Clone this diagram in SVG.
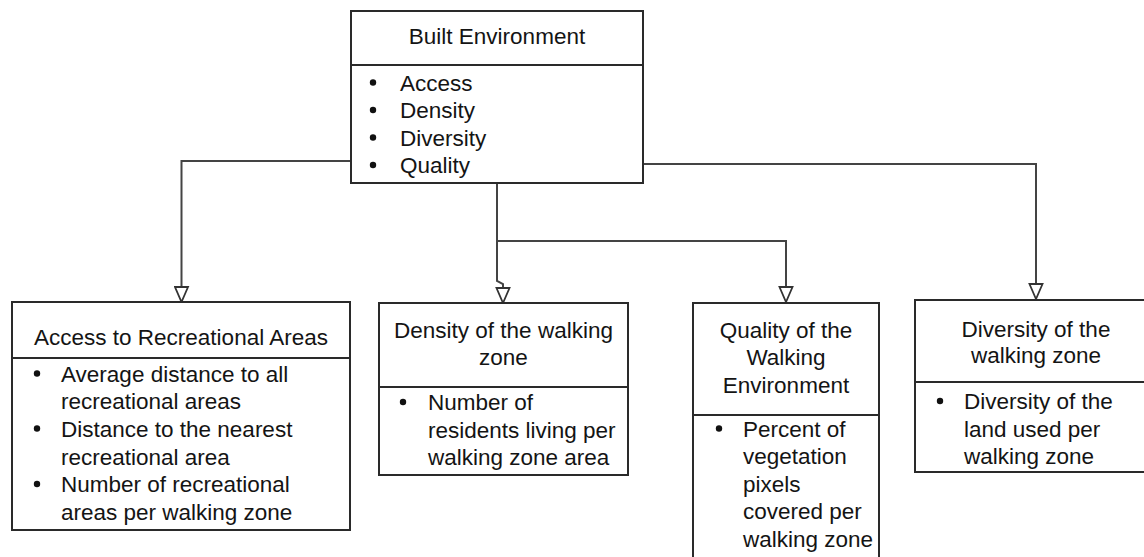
<svg xmlns="http://www.w3.org/2000/svg" width="1144" height="557" viewBox="0 0 1144 557">
  <style>
    .box { fill: #ffffff; stroke: #2a2a2a; stroke-width: 2; }
    .div { stroke: #2a2a2a; stroke-width: 2; fill: none; }
    .t { font-family: "Liberation Sans", Arial, sans-serif; font-size: 22.5px; fill: #141414; }
    .c { text-anchor: middle; }
    .dot { fill: #111111; }
    .wire { fill: none; stroke: #444444; stroke-width: 2; }
  </style>
  <defs>
    <marker id="open-tri" markerUnits="userSpaceOnUse" markerWidth="18" markerHeight="16" viewBox="-1 -8 18 16" refX="15" refY="0" orient="auto">
      <path d="M0,-6.5 L15,0 L0,6.5 Z" fill="#ffffff" stroke="#333333" stroke-width="1.8" stroke-linejoin="miter"/>
    </marker>
  </defs>
  <rect width="1144" height="557" fill="#ffffff"/>

  <!-- connectors -->
  <g id="connectors">
    <path class="wire" d="M351,161 H181.5 V302" marker-end="url(#open-tri)"/>
    <path class="wire" d="M497,184 V281 L503,284 V303" marker-end="url(#open-tri)"/>
    <path class="wire" d="M497,241 H786 V302"  marker-end="url(#open-tri)"/>
    <path class="wire" d="M643,164 H1036 V299" marker-end="url(#open-tri)"/>
  </g>

  <!-- root node -->
  <g id="built-environment">
    <rect class="box" x="351" y="11" width="292" height="172"/>
    <line class="div" x1="351" y1="65" x2="643" y2="65"/>
    <text class="t c" x="497" y="44">Built Environment</text>
    <circle class="dot" cx="373" cy="82.5" r="3.2"/>
    <circle class="dot" cx="373" cy="110" r="3.2"/>
    <circle class="dot" cx="373" cy="137.5" r="3.2"/>
    <circle class="dot" cx="373" cy="165" r="3.2"/>
    <text class="t" x="400" y="90.5">Access</text>
    <text class="t" x="400" y="118">Density</text>
    <text class="t" x="400" y="145.5">Diversity</text>
    <text class="t" x="400" y="173">Quality</text>
  </g>

  <!-- access -->
  <g id="access-recreational">
    <rect class="box" x="12" y="302" width="338" height="228"/>
    <line class="div" x1="12" y1="358" x2="350" y2="358"/>
    <text class="t c" x="181" y="345">Access to Recreational Areas</text>
    <circle class="dot" cx="37" cy="373.5" r="3.2"/>
    <circle class="dot" cx="37" cy="428.5" r="3.2"/>
    <circle class="dot" cx="37" cy="484" r="3.2"/>
    <text class="t" x="61" y="381.5">Average distance to all</text>
    <text class="t" x="61" y="409">recreational areas</text>
    <text class="t" x="61" y="436.5">Distance to the nearest</text>
    <text class="t" x="61" y="464.5">recreational area</text>
    <text class="t" x="61" y="492">Number of recreational</text>
    <text class="t" x="61" y="520">areas per walking zone</text>
  </g>

  <!-- density -->
  <g id="density-zone">
    <rect class="box" x="379" y="303" width="249" height="172"/>
    <line class="div" x1="379" y1="387" x2="628" y2="387"/>
    <text class="t c" x="503.5" y="338">Density of the walking</text>
    <text class="t c" x="503.5" y="365">zone</text>
    <circle class="dot" cx="403" cy="402" r="3.2"/>
    <text class="t" x="428" y="410">Number of</text>
    <text class="t" x="428" y="437.5">residents living per</text>
    <text class="t" x="428" y="465">walking zone area</text>
  </g>

  <!-- quality -->
  <g id="quality-environment">
    <rect class="box" x="693" y="303" width="186" height="262"/>
    <line class="div" x1="693" y1="415" x2="879" y2="415"/>
    <text class="t c" x="786" y="338">Quality of the</text>
    <text class="t c" x="786" y="365">Walking</text>
    <text class="t c" x="786" y="393">Environment</text>
    <circle class="dot" cx="719" cy="428.5" r="3.2"/>
    <text class="t" x="743" y="436.5">Percent of</text>
    <text class="t" x="743" y="464">vegetation</text>
    <text class="t" x="743" y="491.5">pixels</text>
    <text class="t" x="743" y="519">covered per</text>
    <text class="t" x="743" y="546.5">walking zone</text>
  </g>

  <!-- diversity -->
  <g id="diversity-zone">
    <rect class="box" x="915" y="300" width="240" height="172"/>
    <line class="div" x1="915" y1="382" x2="1150" y2="382"/>
    <text class="t c" x="1036" y="337">Diversity of the</text>
    <text class="t c" x="1036" y="363">walking zone</text>
    <circle class="dot" cx="940" cy="401" r="3.2"/>
    <text class="t" x="964" y="409">Diversity of the</text>
    <text class="t" x="964" y="436.5">land used per</text>
    <text class="t" x="964" y="464">walking zone</text>
  </g>
</svg>
